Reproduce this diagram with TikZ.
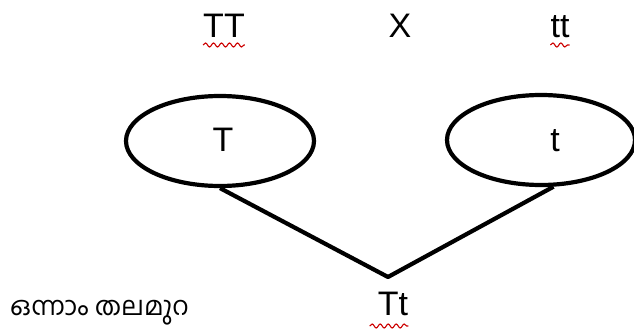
\documentclass[tikz,border=0pt]{standalone}
\usepackage{fontspec}
\setmainfont{Liberation Sans}
\newfontfamily\mlfont[Script=Malayalam]{Hind Kochi}
\usetikzlibrary{shapes.geometric,decorations.pathmorphing}
\tikzset{
  lbl/.style={anchor=base,inner sep=0pt,font=\fontsize{34}{40}\selectfont},
  ell/.style={draw,ellipse,line width=4.2pt,minimum width=188pt,minimum height=90pt,inner sep=0pt},
  conn/.style={line width=4.2pt,line join=round},
  squig/.style={draw=red!80!black,line width=1.1pt,decorate,decoration={snake,segment length=8pt,amplitude=2pt}}
}
\begin{document}
\begin{tikzpicture}[x=1pt,y=-1pt]
\useasboundingbox (0,0) rectangle (634,331);
\node[lbl] (TT) at (224,38) {TT};
\node[lbl] (X) at (400,38) {X};
\node[lbl] (tt) at (560,38) {tt};
\node[ell] (L) at (220,141) {};
\node[ell] (R) at (541,140) {};
\node[lbl] (Lt) at (223,152) {T};
\node[lbl] (Rt) at (555,152) {t};
\coordinate (apex) at (388,277);
\draw[conn] (L.south) -- (apex) -- (R.-75);
\node[lbl] (F1) at (393,315) {Tt};
\node[anchor=base west,inner sep=0pt,text depth=2pt,font=\mlfont\fontsize{26}{30}\selectfont] (gen) at (10,315) {ഒന്നാം തലമുറ};
\draw[squig] ([yshift=-7pt]TT.base west) -- ([yshift=-7pt]TT.base east);
\draw[squig] ([yshift=-7pt]tt.base west) -- ([yshift=-7pt]tt.base east);
\draw[squig] ([xshift=-8pt,yshift=-11pt]F1.base west) -- ([yshift=-11pt]F1.base east);
\end{tikzpicture}
\end{document}
